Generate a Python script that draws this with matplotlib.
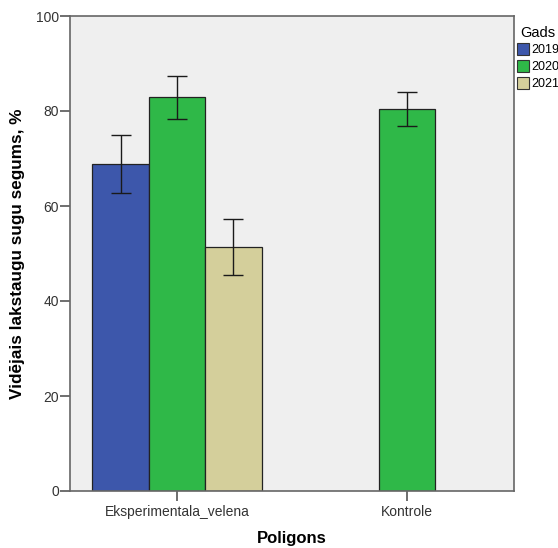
import matplotlib
matplotlib.use("Agg")
import matplotlib.pyplot as plt
import numpy as np

plt.rcParams['font.family'] = ['Liberation Sans', 'DejaVu Sans']

# data
groups = ["Eksperimentala_velena", "Kontrole"]
years = ["2019", "2020", "2021"]
colors = {"2019": "#3d57ab", "2020": "#2fb848", "2021": "#d4cf9b"}

# (group index, year, mean, lower, upper)
bar_group = [0, 0, 0, 1]
bar_year = ["2019", "2020", "2021", "2020"]
bar_mean = [68.9, 82.9, 51.3, 80.4]
bar_low = [62.8, 78.4, 45.5, 76.8]
bar_high = [74.9, 87.4, 57.2, 84.0]

width = 0.245
offsets = {0: {"2019": -width, "2020": 0.0, "2021": width}, 1: {"2020": 0.0}}

fig = plt.figure(figsize=(5.58, 5.48), dpi=100)
ax = fig.add_axes([70 / 558, 1 - 491 / 548, 444 / 558, 475 / 548])
ax.set_facecolor("#efefef")

for g, y, m, lo, hi in zip(bar_group, bar_year, bar_mean, bar_low, bar_high):
    x = g + offsets[g][y]
    ax.bar(x, m, width=width, color=colors[y], edgecolor="#222222", linewidth=0.9, zorder=2)
    ax.errorbar(x, m, yerr=[[m - lo], [hi - m]], fmt="none", ecolor="#1a1a1a",
                elinewidth=1.0, capsize=7, capthick=1.0, zorder=3)

ax.set_xlim(-0.465, 1.465)
ax.set_ylim(0, 100)
ax.set_xticks(range(len(groups)))
ax.set_xticklabels(groups, fontsize=10)
ax.set_yticks([0, 20, 40, 60, 80, 100])
ax.tick_params(axis="both", direction="out", length=7, width=1.2, color="#555555",
               labelsize=10, labelcolor="#333333", pad=3)
ax.tick_params(axis="y", pad=1)
for s in ax.spines.values():
    s.set_color("#666666")
    s.set_linewidth(1.2)

ax.set_ylabel("Vidējais lakstaugu sugu segums, %", fontsize=12.3, fontweight="bold", labelpad=8)
ax.set_xlabel("Poligons", fontsize=12, fontweight="bold", labelpad=9)

handles = [plt.Rectangle((0, 0), 1, 1, facecolor=colors[y], edgecolor="#333333", linewidth=0.8)
           for y in years]
leg = ax.legend(handles, years, title="Gads", loc="upper left", bbox_to_anchor=(1.0, 0.985),
                frameon=False, fontsize=9, title_fontsize=10.5, handlelength=1.0,
                handleheight=1.05, handletextpad=0.2, labelspacing=0.3, borderaxespad=0.1,
                borderpad=0.1)
leg._legend_box.align = "left"
leg.get_title().set_position((4, 0))

fig.savefig("out.png", dpi=100)
